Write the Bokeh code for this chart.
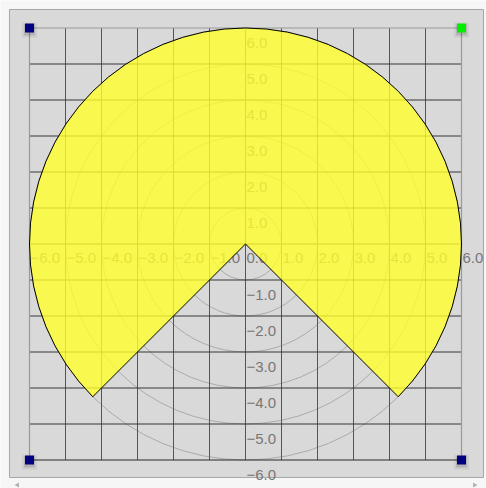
from bokeh.plotting import figure
from bokeh.models import Range1d
from bokeh.core.properties import value
from bokeh.embed import file_html
from bokeh.resources import INLINE

# ---- data ----
tick_values = [-6, -5, -4, -3, -2, -1, 0, 1, 2, 3, 4, 5, 6]
x_tick_labels = ["−6.0", "−5.0", "−4.0", "−3.0", "−2.0", "−1.0", "0.0",
                 "1.0", "2.0", "3.0", "4.0", "5.0", "6.0"]
y_tick_values = [-6, -5, -4, -3, -2, -1, 1, 2, 3, 4, 5, 6]
y_tick_labels = ["−6.0", "−5.0", "−4.0", "−3.0", "−2.0", "−1.0",
                 "1.0", "2.0", "3.0", "4.0", "5.0", "6.0"]
polar_radii = [1, 2, 3, 4, 5, 6]
sector_radius = 6
sector_start_deg = -45
sector_end_deg = -135
corner_x = [-6, -6, 6]
corner_y = [6, -6, -6]
green_corner_x = [6]
green_corner_y = [6]

PX = 36.0  # pixels per unit
W, H = 486, 488
x0_px, y0_px = 245.0, 243.5  # origin position inside the canvas
xr = Range1d(-x0_px / PX, (W - x0_px) / PX)
yr = Range1d((y0_px - H) / PX, y0_px / PX)

p = figure(width=W, height=H, x_range=xr, y_range=yr, output_backend="svg",
           toolbar_location=None, min_border=0, outline_line_color=None,
           background_fill_color="#f6f6f6", border_fill_color="#f6f6f6")
p.axis.visible = False
p.grid.visible = False

lo, hi = min(tick_values), max(tick_values)

# panel
pad_l, pad_r, pad_t, pad_b = 0.556, 0.611, 0.514, 0.486
p.quad(left=[lo - pad_l], right=[hi + pad_r], top=[hi + pad_t], bottom=[lo - pad_b],
       fill_color="#d9d9d9", line_color="#a6a6a6", line_width=1)

# scrollbar arrows
sb_y = lo - pad_b - 7.5 / PX
p.scatter(x=[lo - pad_l + 8 / PX], y=[sb_y], marker="triangle", size=5, angle=90,
          angle_units="deg", fill_color="#b0b0b0", line_color=None)
p.scatter(x=[hi + pad_r - 9 / PX], y=[sb_y], marker="triangle", size=5, angle=-90,
          angle_units="deg", fill_color="#b0b0b0", line_color=None)

# polar circles
p.circle(x=[0] * len(polar_radii), y=[0] * len(polar_radii), radius=polar_radii,
         fill_color=None, line_color="#ababab", line_width=1)

# grid
inner = [t for t in tick_values if lo < t < hi]
p.segment(x0=inner, y0=[lo] * len(inner), x1=inner, y1=[hi] * len(inner),
          line_color="#555555", line_width=1)
p.segment(x0=[lo] * len(inner), y0=inner, x1=[hi] * len(inner), y1=inner,
          line_color="#363636", line_width=1)
p.segment(x0=[lo, hi, lo], y0=[lo, lo, hi], x1=[lo, hi, hi], y1=[hi, hi, hi],
          line_color="#9a9a9a", line_width=1.2)
p.segment(x0=[lo], y0=[lo], x1=[hi], y1=[lo], line_color="#2a2a2a", line_width=1)

# tick labels
p.text(x=tick_values, y=[0] * len(tick_values), text=x_tick_labels,
       text_font=value("Liberation Sans"), text_font_size="15px",
       text_color="#777777", text_align="left", text_baseline="alphabetic",
       x_offset=1, y_offset=14)
p.text(x=[0] * len(y_tick_values), y=y_tick_values, text=y_tick_labels,
       text_font=value("Liberation Sans"), text_font_size="15px",
       text_color="#777777", text_align="left", text_baseline="alphabetic",
       x_offset=1, y_offset=14.5)

# sector
p.wedge(x=0, y=0, radius=sector_radius, start_angle=sector_start_deg,
        end_angle=sector_end_deg, start_angle_units="deg", end_angle_units="deg",
        direction="anticlock",
        fill_color="#ffff2a", fill_alpha=0.8, line_color="#000000", line_width=1)

# corner handles with shadow
sh = 2.0 / PX
all_cx = corner_x + green_corner_x
all_cy = corner_y + green_corner_y
p.scatter(x=all_cx, y=[v - sh for v in all_cy], marker="square", size=15,
          fill_color="#000000", fill_alpha=0.06, line_color=None)
p.scatter(x=all_cx, y=[v - sh for v in all_cy], marker="square", size=11,
          fill_color="#000000", fill_alpha=0.12, line_color=None)
p.scatter(x=corner_x, y=corner_y, marker="square", size=9,
          fill_color="#000080", line_color=None)
p.scatter(x=green_corner_x, y=green_corner_y, marker="square", size=9,
          fill_color="#00ee00", line_color=None)

open("out.html", "w").write(file_html(p, INLINE))
